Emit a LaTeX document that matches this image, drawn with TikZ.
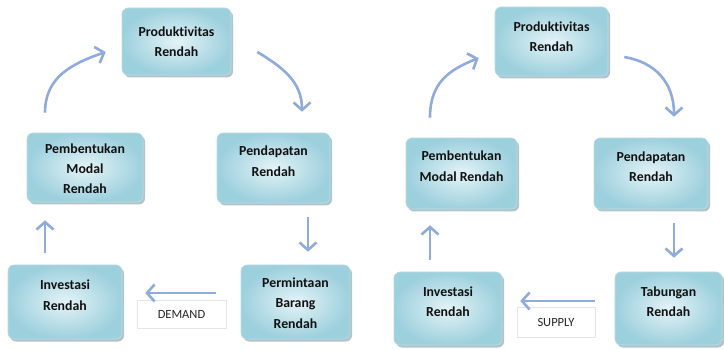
\documentclass[tikz,border=0pt]{standalone}
\usepackage{fontspec}
\setmainfont{Carlito}[Ligatures=NoCommon]
\usetikzlibrary{arrows.meta,shadows,calc}
\definecolor{flow}{HTML}{8EABDB}
\definecolor{boxdark}{HTML}{9DD0DD}
\definecolor{boxlight}{HTML}{E4F3F7}
\definecolor{boxedge}{HTML}{B9DCE5}
\definecolor{boxshade}{HTML}{7F9CA6}
\definecolor{inktext}{HTML}{111111}
\renewcommand\arraystretch{1.45}
% centred block of lines, lifted by #1 inside its box
\newcommand\boxtext[2]{\raisebox{#1}[0pt][0pt]{\begin{tabular}{@{}c@{}}#2\end{tabular}}}

\begin{document}
\begin{tikzpicture}[x=1pt,y=-1pt,
  stage/.style={draw=boxedge, line width=0.6pt, rounded corners=6pt,
    shading=radial, inner color=boxlight, outer color=boxdark,
    drop shadow={shadow xshift=2pt,shadow yshift=-2.5pt,fill=boxshade,opacity=0.6},
    font=\fontsize{13.8}{14}\selectfont\bfseries, text=inktext, inner sep=0pt},
  tag/.style={draw=black!10, line width=0.5pt, fill=white,
    font=\fontsize{12.5}{14}\selectfont, text=black!85, inner sep=0pt},
  flowarrow/.style={draw=flow, line width=2.6pt, -{Straight Barb[length=7.5pt,width=17pt]}}
]
\useasboundingbox (0,0) rectangle (724,350);

% ---- demand side ----
\node[stage, minimum width=109pt, minimum height=67pt] (P1) at (176.5,41.5) {\boxtext{-4.5pt}{Produktivitas\\Rendah}};
\node[stage, minimum width=116pt, minimum height=69pt] (M1) at (85,167.5) {\boxtext{-5.4pt}{Pembentukan\\Modal\\Rendah}};
\node[stage, minimum width=113pt, minimum height=70pt] (D1) at (273.5,168) {\boxtext{2.6pt}{Pendapatan\\Rendah}};
\node[stage, minimum width=114pt, minimum height=74pt] (I1) at (65,302) {\boxtext{2.6pt}{Investasi\\Rendah}};
\node[stage, minimum width=109pt, minimum height=74pt] (B1) at (295.5,302) {\boxtext{-5.4pt}{Permintaan\\Barang\\Rendah}};
\node[tag, minimum width=89pt, minimum height=28pt] (DEM) at (181.5,314) {DEMAND};

\draw[flowarrow] ($(M1.north)+(-40,-20)$) .. controls +(0,-35) and +(-35,12) .. ($(P1.west)+(-16,10.5)$);
\draw[flowarrow] ($(P1.east)+(26,10.5)$) .. controls +(25,15) and +(0,-30) .. ($(D1.north)+(28.5,-21)$);
\draw[flowarrow] ($(D1.south)+(34.5,14)$) -- ($(B1.north)+(12.5,-13)$);
\draw[flowarrow] ($(B1.west)+(-25,-9)$) -- ($(I1.east)+(23,-9)$);
\draw[flowarrow] ($(I1.north)+(-20,-12)$) -- ($(M1.south)+(-40,18)$);

% ---- supply side ----
\node[stage, minimum width=113pt, minimum height=69pt] (P2) at (551.5,41.5) {\boxtext{0.5pt}{Produktivitas\\Rendah}};
\node[stage, minimum width=111pt, minimum height=71pt] (M2) at (461.5,173.5) {\boxtext{3.1pt}{Pembentukan\\Modal Rendah}};
\node[stage, minimum width=114pt, minimum height=71pt] (D2) at (651,173.5) {\boxtext{2.6pt}{Pendapatan\\Rendah}};
\node[stage, minimum width=108pt, minimum height=73pt] (I2) at (448,308.5) {\boxtext{2.6pt}{Investasi\\Rendah}};
\node[stage, minimum width=107pt, minimum height=73pt] (T2) at (668.5,308.5) {\boxtext{2.6pt}{Tabungan\\Rendah}};
\node[tag, minimum width=78pt, minimum height=30pt] (SUP) at (556,322) {SUPPLY};

\draw[flowarrow] ($(M2.north)+(-31.5,-20)$) .. controls +(0,-35) and +(-30,12) .. ($(P2.west)+(-16,16.5)$);
\draw[flowarrow] ($(P2.east)+(16,15.5)$) .. controls +(30,5) and +(0,-35) .. ($(D2.north)+(23,-21)$);
\draw[flowarrow] ($(D2.south)+(23,14)$) -- ($(T2.north)+(5.5,-14)$);
\draw[flowarrow] ($(T2.west)+(-20,-7.5)$) -- ($(I2.east)+(18,-7.5)$);
\draw[flowarrow] ($(I2.north)+(-18,-12)$) -- ($(M2.south)+(-31.5,16)$);
\end{tikzpicture}
\end{document}
